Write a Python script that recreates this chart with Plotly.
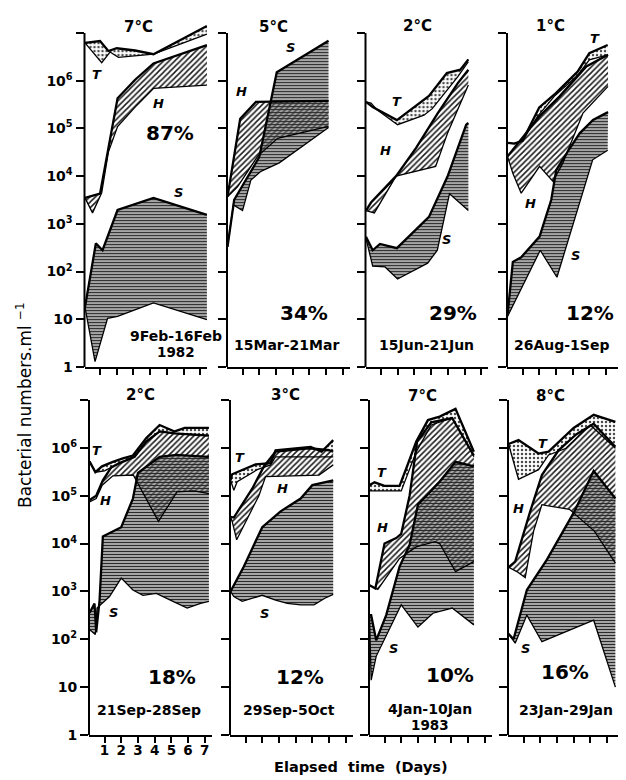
import plotly.graph_objects as go

# ------------------------------------------------------------------ data
TEMPS = ["7°C", "5°C", "2°C", "1°C", "2°C", "3°C", "7°C", "8°C"]
PERIODS = ["9Feb-16Feb", "15Mar-21Mar", "15Jun-21Jun", "26Aug-1Sep",
           "21Sep-28Sep", "29Sep-5Oct", "4Jan-10Jan", "23Jan-29Jan"]
YEARS = ["1982", "", "", "", "", "", "1983", ""]
PERCENTS = ["87%", "34%", "29%", "12%", "18%", "12%", "10%", "16%"]
DAY_TICKS = [1, 2, 3, 4, 5, 6, 7]
DAY_TICK_LABELS = ["1", "2", "3", "4", "5", "6", "7"]
COUNT_TICKS = [1, 10, 100, 1e3, 1e4, 1e5, 1e6, 1e7]
COUNT_TICK_LABELS = ["1", "10", "10<sup>2</sup>", "10<sup>3</sup>", "10<sup>4</sup>",
                     "10<sup>5</sup>", "10<sup>6</sup>", ""]

# Panel 1 : 7°C, 9Feb-16Feb 1982
P1_T_MAX_DAY = [0.1, 1.0, 1.5, 2.0, 3.1, 4.2, 7.4]
P1_T_MAX = [6.2e6, 6.8e6, 4.2e6, 4.8e6, 4.3e6, 3.6e6, 1.4e7]
P1_T_MIN_DAY = [0.1, 1.1, 1.6, 2.1, 4.2, 7.4]
P1_T_MIN = [6.2e6, 2.4e6, 4.0e6, 3.1e6, 3.6e6, 9.5e6]
P1_H_MAX_DAY = [0.1, 1.0, 2.05, 3.1, 4.2, 7.4]
P1_H_MAX = [3.5e3, 4.3e3, 4.3e5, 1.05e6, 2.3e6, 5.6e6]
P1_H_MIN_DAY = [0.1, 0.55, 1.1, 1.5, 2.05, 3.1, 4.2, 7.4]
P1_H_MIN = [3.5e3, 1.7e3, 4.5e3, 3.2e4, 1.1e5, 2.8e5, 6.9e5, 8.1e5]
P1_S_MAX_DAY = [0.1, 0.75, 1.15, 2.05, 4.2, 7.4]
P1_S_MAX = [18, 390, 280, 1950, 3500, 1550]
P1_S_MIN_DAY = [0.1, 0.7, 1.45, 2.05, 4.2, 7.4]
P1_S_MIN = [18, 1.3, 10.5, 11.5, 22, 9.8]

# Panel 2 : 5°C, 15Mar-21Mar
P2_H_MAX_DAY = [0.1, 0.86, 1.8, 6.15]
P2_H_MAX = [3.7e3, 1.6e5, 3.6e5, 3.8e5]
P2_H_MIN_DAY = [0.1, 0.7, 1.9, 3.1, 6.15]
P2_H_MIN = [3.7e3, 6.0e3, 2.6e4, 6.2e4, 1.1e5]
P2_S_MAX_DAY = [0.1, 0.5, 2.0, 3.05, 6.15]
P2_S_MAX = [330, 3.2e3, 2.5e4, 1.5e6, 6.9e6]
P2_S_MIN_DAY = [0.1, 0.45, 1.0, 1.5, 2.1, 3.2, 6.15]
P2_S_MIN = [330, 2.5e3, 1.9e3, 8.3e3, 1.26e4, 1.9e4, 1.05e5]

# Panel 3 : 2°C, 15Jun-21Jun
P3_T_MAX_DAY = [0.1, 0.5, 1.95, 3.87, 4.94, 5.75, 6.23]
P3_T_MAX = [3.6e5, 2.8e5, 1.5e5, 4.8e5, 1.45e6, 1.7e6, 2.8e6]
P3_T_MIN_DAY = [0.1, 0.4, 0.74, 1.99, 3.57, 4.07, 5.59, 6.23]
P3_T_MIN = [3.6e5, 3.4e5, 2.5e5, 1.2e5, 1.9e5, 2.6e5, 1.2e6, 2.5e6]
P3_H_MAX_DAY = [0.1, 0.4, 1.9, 3.1, 4.4, 5.6, 6.23]
P3_H_MAX = [1.9e3, 2.8e3, 1.0e4, 3.9e4, 2.1e5, 8.9e5, 1.7e6]
P3_H_MIN_DAY = [0.1, 0.6, 1.9, 4.27, 4.98, 6.23]
P3_H_MIN = [1.9e3, 1.7e3, 1.0e4, 1.6e4, 7.9e4, 8.1e5]
P3_S_MAX_DAY = [0.1, 0.5, 0.94, 1.95, 3.87, 4.98, 6.1, 6.23]
P3_S_MAX = [540, 280, 380, 310, 1.4e3, 9.8e3, 1.2e5, 1.3e5]
P3_S_MIN_DAY = [0.1, 0.5, 1.24, 1.99, 3.79, 4.37, 5.1, 6.23]
P3_S_MIN = [500, 130, 125, 70, 150, 280, 4.3e3, 1.9e3]

# Panel 4 : 1°C, 26Aug-1Sep
P4_T_MAX_DAY = [0.1, 0.5, 1.0, 2.0, 3.0, 4.3, 5.0, 6.1]
P4_T_MAX = [5.0e4, 4.8e4, 5.5e4, 2.75e5, 5.5e5, 1.55e6, 3.8e6, 5.6e6]
P4_T_MIN_DAY = [0.1, 0.5, 1.0, 1.9, 2.9, 4.3, 5.0, 6.1]
P4_T_MIN = [5.0e4, 4.8e4, 5.5e4, 1.8e5, 4.7e5, 1.3e6, 2.75e6, 3.5e6]
P4_H_MAX_DAY = [0.1, 0.72, 2.02, 3.22, 4.82, 6.12]
P4_H_MAX = [2.6e4, 4.9e4, 1.8e5, 4.7e5, 2.0e6, 3.5e6]
P4_H_MIN_DAY = [0.1, 0.42, 0.92, 2.02, 2.82, 3.42, 4.62, 6.12]
P4_H_MIN = [2.6e4, 1.15e4, 4.4e3, 1.6e4, 7.8e3, 1.9e4, 2.1e5, 7.6e5]
P4_S_MAX_DAY = [0.1, 0.42, 0.92, 2.02, 2.72, 3.02, 3.82, 4.42, 5.22, 6.12]
P4_S_MAX = [12, 160, 200, 540, 3.2e3, 1.35e4, 3.8e4, 7.9e4, 1.5e5, 2.2e5]
P4_S_MIN_DAY = [0.1, 2.06, 3.06, 5.2, 6.1]
P4_S_MIN = [11.5, 280, 76, 2.2e4, 3.5e4]

# Panel 5 : 2°C, 21Sep-28Sep
P5_T_MAX_DAY = [0.1, 0.45, 0.85, 1.5, 2.1, 2.7, 3.5, 4.3, 5.2, 5.8, 7.25]
P5_T_MAX = [5.2e5, 3.1e5, 4.1e5, 5.1e5, 6.0e5, 6.9e5, 1.6e6, 3.0e6, 2.2e6, 2.6e6, 2.6e6]
P5_T_MIN_DAY = [0.1, 0.45, 1.0, 1.4, 1.9, 2.8, 3.5, 4.3, 5.2, 6.1, 7.25]
P5_T_MIN = [5.2e5, 3.1e5, 3.3e5, 3.9e5, 4.8e5, 6.5e5, 1.35e6, 2.2e6, 2.0e6, 1.9e6, 1.8e6]
P5_H_MAX_DAY = [0.1, 0.5, 0.9, 1.4, 1.9, 2.8, 3.5, 4.3, 5.2, 6.1, 7.25]
P5_H_MAX = [8.1e4, 1.0e5, 2.1e5, 3.9e5, 4.8e5, 6.5e5, 1.35e6, 2.2e6, 2.0e6, 1.9e6, 1.8e6]
P5_H_MIN_DAY = [0.1, 0.5, 0.86, 1.5, 2.72, 4.23, 5.34, 6.35, 7.25]
P5_H_MIN = [7.4e4, 8.7e4, 1.66e5, 2.6e5, 2.7e5, 2.9e4, 1.2e5, 1.26e5, 1.1e5]
P5_S_MAX_DAY = [0.1, 0.4, 0.5, 0.7, 0.9, 1.5, 2.0, 2.7, 3.0, 4.3, 5.3, 7.25]
P5_S_MAX = [355, 560, 140, 630, 1.4e4, 1.8e4, 2.2e4, 8.7e4, 3.0e5, 6.5e5, 7.1e5, 6.5e5]
P5_S_MIN_DAY = [0.1, 0.45, 0.55, 1.3, 2.0, 2.7, 3.3, 4.1, 5.1, 5.95, 6.75, 7.25]
P5_S_MIN = [160, 126, 450, 780, 1.9e3, 1.07e3, 830, 910, 620, 450, 560, 620]

# Panel 6 : 3°C, 29Sep-5Oct
P6_T_MAX_DAY = [0.1, 0.2, 1.6, 2.5, 2.8, 4.9, 5.55, 6.25]
P6_T_MAX = [2.1e5, 2.8e5, 4.5e5, 4.8e5, 8.9e5, 1.05e6, 8.3e5, 1.45e6]
P6_T_MIN_DAY = [0.1, 0.3, 0.5, 1.7, 2.5, 2.8, 5.55, 6.25]
P6_T_MIN = [2.1e5, 1.3e5, 1.95e5, 3.5e5, 4.4e5, 6.5e5, 6.5e5, 6.5e5]
P6_H_MAX_DAY = [0.1, 0.3, 1.4, 2.1, 2.8, 4.8, 6.0, 6.25]
P6_H_MAX = [3.6e4, 3.5e4, 1.4e5, 4.1e5, 8.3e5, 9.8e5, 8.9e5, 8.3e5]
P6_H_MIN_DAY = [0.1, 0.2, 0.47, 1.1, 1.8, 2.2, 5.4, 6.25]
P6_H_MIN = [3.6e4, 2.9e4, 1.2e4, 3.4e4, 1.0e5, 2.5e5, 2.7e5, 4.4e5]
P6_S_MAX_DAY = [0.1, 0.9, 2.0, 3.1, 4.3, 5.0, 6.25]
P6_S_MAX = [1.0e3, 3.3e3, 2.2e4, 4.7e4, 8.7e4, 1.66e5, 2.1e5]
P6_S_MIN_DAY = [0.1, 0.3, 0.8, 1.5, 2.0, 2.8, 3.5, 4.3, 5.1, 5.75, 6.25]
P6_S_MIN = [1.0e3, 780, 620, 720, 830, 660, 560, 525, 525, 720, 870]

# Panel 7 : 7°C, 4Jan-10Jan 1983
P7_T_MAX_DAY = [0.1, 0.4, 1.0, 1.9, 2.3, 2.9, 3.6, 4.3, 5.25, 6.35]
P7_T_MAX = [1.66e5, 1.9e5, 1.6e5, 1.6e5, 3.7e5, 1.35e6, 3.8e6, 4.5e6, 6.5e6, 8.3e5]
P7_T_MIN_DAY = [0.1, 2.0, 2.9, 3.8, 5.05, 6.35]
P7_T_MIN = [1.26e5, 1.26e5, 8.3e5, 3.0e6, 4.2e6, 6.5e5]
P7_H_MAX_DAY = [0.1, 0.45, 1.0, 1.7, 2.0, 2.5, 2.95, 3.8, 5.05, 6.35]
P7_H_MAX = [1.35e3, 1.15e3, 1.0e4, 1.3e4, 1.6e4, 1.0e5, 1.35e6, 3.4e6, 4.2e6, 6.9e5]
P7_H_MIN_DAY = [0.1, 0.6, 1.9, 2.9, 4.0, 4.3, 5.25, 6.35]
P7_H_MIN = [1.35e3, 1.1e3, 4.9e3, 8.5e3, 1.1e4, 1.0e4, 2.6e3, 4.2e3]
P7_S_MAX_DAY = [0.1, 0.2, 0.5, 1.1, 1.9, 2.5, 3.0, 4.3, 5.25, 6.35]
P7_S_MAX = [320, 320, 95, 320, 3.3e3, 9.3e3, 6.5e4, 1.95e5, 5.1e5, 4.1e5]
P7_S_MIN_DAY = [0.1, 0.2, 0.5, 2.0, 3.0, 3.9, 5.05, 6.35]
P7_S_MIN = [320, 14, 44, 525, 180, 350, 450, 200]

# Panel 8 : 8°C, 23Jan-29Jan
P8_T_MAX_DAY = [0.1, 0.7, 1.9, 2.5, 4.0, 5.2, 6.5]
P8_T_MAX = [1.2e6, 1.45e6, 7.6e5, 8.3e5, 2.6e6, 4.9e6, 3.5e6]
P8_T_MIN_DAY = [0.1, 0.7, 1.9, 2.5, 3.55, 5.0, 6.5]
P8_T_MIN = [1.2e6, 2.2e5, 3.5e5, 7.1e5, 9.8e5, 3.0e6, 9.8e5]
P8_H_MAX_DAY = [0.1, 0.5, 1.4, 2.1, 3.1, 4.15, 5.2, 6.5]
P8_H_MAX = [3.2e3, 4.2e3, 4.7e4, 2.7e5, 8.9e5, 1.9e6, 3.2e6, 1.05e6]
P8_H_MIN_DAY = [0.1, 0.6, 1.1, 1.6, 2.1, 2.4, 3.75, 5.25, 6.5]
P8_H_MIN = [3.2e3, 2.6e3, 1.95e3, 1.8e4, 6.5e4, 6.2e4, 5.2e4, 1.8e4, 3.9e3]
P8_S_MAX_DAY = [0.1, 0.4, 1.2, 2.4, 4.05, 5.2, 6.5]
P8_S_MAX = [130, 100, 1.07e3, 4.6e3, 4.7e4, 3.3e5, 8.7e4]
P8_S_MIN_DAY = [0.1, 0.5, 1.2, 2.1, 5.2, 6.5]
P8_S_MIN = [130, 83, 320, 89, 250, 10]

PANEL_BANDS = [
    {"T": (P1_T_MAX_DAY, P1_T_MAX, P1_T_MIN_DAY, P1_T_MIN),
     "H": (P1_H_MAX_DAY, P1_H_MAX, P1_H_MIN_DAY, P1_H_MIN),
     "S": (P1_S_MAX_DAY, P1_S_MAX, P1_S_MIN_DAY, P1_S_MIN)},
    {"H": (P2_H_MAX_DAY, P2_H_MAX, P2_H_MIN_DAY, P2_H_MIN),
     "S": (P2_S_MAX_DAY, P2_S_MAX, P2_S_MIN_DAY, P2_S_MIN)},
    {"T": (P3_T_MAX_DAY, P3_T_MAX, P3_T_MIN_DAY, P3_T_MIN),
     "H": (P3_H_MAX_DAY, P3_H_MAX, P3_H_MIN_DAY, P3_H_MIN),
     "S": (P3_S_MAX_DAY, P3_S_MAX, P3_S_MIN_DAY, P3_S_MIN)},
    {"T": (P4_T_MAX_DAY, P4_T_MAX, P4_T_MIN_DAY, P4_T_MIN),
     "H": (P4_H_MAX_DAY, P4_H_MAX, P4_H_MIN_DAY, P4_H_MIN),
     "S": (P4_S_MAX_DAY, P4_S_MAX, P4_S_MIN_DAY, P4_S_MIN)},
    {"T": (P5_T_MAX_DAY, P5_T_MAX, P5_T_MIN_DAY, P5_T_MIN),
     "H": (P5_H_MAX_DAY, P5_H_MAX, P5_H_MIN_DAY, P5_H_MIN),
     "S": (P5_S_MAX_DAY, P5_S_MAX, P5_S_MIN_DAY, P5_S_MIN)},
    {"T": (P6_T_MAX_DAY, P6_T_MAX, P6_T_MIN_DAY, P6_T_MIN),
     "H": (P6_H_MAX_DAY, P6_H_MAX, P6_H_MIN_DAY, P6_H_MIN),
     "S": (P6_S_MAX_DAY, P6_S_MAX, P6_S_MIN_DAY, P6_S_MIN)},
    {"T": (P7_T_MAX_DAY, P7_T_MAX, P7_T_MIN_DAY, P7_T_MIN),
     "H": (P7_H_MAX_DAY, P7_H_MAX, P7_H_MIN_DAY, P7_H_MIN),
     "S": (P7_S_MAX_DAY, P7_S_MAX, P7_S_MIN_DAY, P7_S_MIN)},
    {"T": (P8_T_MAX_DAY, P8_T_MAX, P8_T_MIN_DAY, P8_T_MIN),
     "H": (P8_H_MAX_DAY, P8_H_MAX, P8_H_MIN_DAY, P8_H_MIN),
     "S": (P8_S_MAX_DAY, P8_S_MAX, P8_S_MIN_DAY, P8_S_MIN)},
]

# ------------------------------------------------------------------ layout constants
# the page body has an 8 px margin, so the figure is drawn 8 px in from the corner
PAGE_OFFSET = 8
W, H = 626 - PAGE_OFFSET, 780 - PAGE_OFFSET
PX_PER_DAY = 16.7
X_START = 0.07
X_END = 7.42
LEFT_PX = [84.5, 227, 365.5, 507, 89, 230, 369, 508]
ROW_PX = {0: (367.0, 21.1), 1: (735.0, 388.0)}   # (bottom = 1, top = 10^7.25) in screen px
Y_RANGE = [0, 7.25]

BAND_STYLE = {
    "T": dict(shape=".", fgcolor="#4a4a4a", bgcolor="white", size=4, solidity=0.3),
    "H": dict(shape="/", fgcolor="#1a1a1a", bgcolor="white", size=4, solidity=0.38),
    "S": dict(shape="-", fgcolor="#2a2a2a", bgcolor="rgba(105,105,105,0.6)", size=3, solidity=0.35),
}

# label screen-pixel positions
LABEL_PX = [
    dict(T=(97, 75), H=(158, 103), S=(178, 193), pct=(170, 133), date=(176, 336), year=(176, 352), title=(138, 27)),
    dict(H=(241, 92), S=(290, 48), pct=(304, 313), date=(286, 345), title=(273, 27)),
    dict(T=(397, 102), H=(386, 150), S=(446, 240), pct=(453, 313), date=(426, 345), title=(417, 26)),
    dict(T=(595, 38), H=(530, 203), S=(575, 255), pct=(590, 313), date=(561, 345), title=(550, 26)),
    dict(T=(97, 450), H=(105, 500), S=(113, 612), pct=(172, 677), date=(149, 710), title=(140, 395)),
    dict(T=(240, 458), H=(282, 488), S=(264, 613), pct=(300, 677), date=(289, 710), title=(285, 395)),
    dict(T=(382, 472), H=(383, 527), S=(393, 648), pct=(450, 675), date=(430, 709), year=(430, 725), title=(422, 396)),
    dict(T=(543, 443), H=(518, 508), S=(525, 648), pct=(565, 672), date=(566, 710), title=(550, 396)),
]

BOLD_FONT = "DejaVu Sans, Liberation Sans, Arial, sans-serif"


def fx(px):
    return (px - PAGE_OFFSET) / W


def fy(py):
    return 1 - (py - PAGE_OFFSET) / H


fig = go.Figure()


def ann(px, py, text, size, family=BOLD_FONT, angle=0):
    fig.add_annotation(x=fx(px), y=fy(py), xref="paper", yref="paper",
                       text=text, showarrow=False, textangle=angle,
                       xanchor="center", yanchor="middle",
                       font=dict(family=family, size=size, color="black"))


for i, bands in enumerate(PANEL_BANDS):
    k = i + 1
    suffix = "" if k == 1 else str(k)
    xa, ya = "x" + suffix, "y" + suffix
    row = 0 if i < 4 else 1

    for name in ("T", "H", "S"):
        if name not in bands:
            continue
        xmax, ymax, xmin, ymin = bands[name]
        st = BAND_STYLE[name]
        fig.add_trace(go.Scatter(
            x=list(xmax) + list(xmin)[::-1], y=list(ymax) + list(ymin)[::-1],
            xaxis=xa, yaxis=ya, mode="lines", fill="toself",
            fillcolor=st["bgcolor"],
            fillpattern=dict(shape=st["shape"], fgcolor=st["fgcolor"], bgcolor=st["bgcolor"],
                             size=st["size"], solidity=st["solidity"]),
            line=dict(width=0, color="rgba(0,0,0,0)"),
            hoverinfo="skip", showlegend=False))
    for name in ("T", "H", "S"):
        if name not in bands:
            continue
        xmax, ymax, xmin, ymin = bands[name]
        fig.add_trace(go.Scatter(x=xmin, y=ymin, xaxis=xa, yaxis=ya, mode="lines",
                                 line=dict(color="black", width=1.3),
                                 hoverinfo="skip", showlegend=False))
        fig.add_trace(go.Scatter(x=xmax, y=ymax, xaxis=xa, yaxis=ya, mode="lines",
                                 line=dict(color="black", width=2.3),
                                 hoverinfo="skip", showlegend=False))

    left = LEFT_PX[i]
    right = min(left + (X_END - X_START) * PX_PER_DAY, 626)
    xend = X_START + (right - left) / PX_PER_DAY
    bottom_px, top_px = ROW_PX[row]
    fig.update_layout(**{
        "xaxis" + suffix: dict(
            domain=[fx(left), min(fx(right), 1.0)], range=[X_START, xend], anchor=ya,
            showline=True, linecolor="black", linewidth=2, showgrid=False, zeroline=False,
            ticks="outside", ticklen=6, tickwidth=2, tickcolor="black",
            tickvals=DAY_TICKS, ticktext=["<b>%s</b>" % t for t in DAY_TICK_LABELS],
            showticklabels=(k == 5), ticklabelstandoff=-4,
            tickfont=dict(family=BOLD_FONT, size=13.5, color="black")),
        "yaxis" + suffix: dict(
            domain=[fy(bottom_px), fy(top_px)], type="log", range=Y_RANGE, anchor=xa,
            showline=False, showgrid=False, zeroline=False,
            ticks="outside", ticklen=8, tickwidth=2, tickcolor="black",
            tickvals=COUNT_TICKS, ticktext=["<b>%s</b>" % t for t in COUNT_TICK_LABELS],
            showticklabels=(k in (1, 5)),
            tickfont=dict(family=BOLD_FONT, size=14, color="black")),
    })
    # y-axis line that stops at the 10^7 tick
    fig.add_shape(type="line", xref=xa + " domain", yref=ya, x0=0, x1=0,
                  y0=COUNT_TICKS[0], y1=COUNT_TICKS[-1],
                  line=dict(color="black", width=2))

    lp = LABEL_PX[i]
    for name in ("T", "H", "S"):
        if name in lp:
            ann(*lp[name], "<b><i>%s</i></b>" % name, 13)
    ann(*lp["pct"], "<b>%s</b>" % PERCENTS[i], 20)
    ann(*lp["date"], "<b>%s</b>" % PERIODS[i], 14)
    if YEARS[i]:
        ann(*lp["year"], "<b>%s</b>" % YEARS[i], 13.5)
    ann(*lp["title"], "<b>%s</b>" % TEMPS[i], 15)

ann(24, 405, "Bacterial numbers.ml <sup>−1</sup>", 17,
    family="DejaVu Sans, Liberation Sans, Arial, sans-serif", angle=-90)
ann(361, 767, "<b>Elapsed  time  (Days)</b>", 14.5)

fig.update_layout(width=W, height=H, margin=dict(l=0, r=0, t=0, b=0),
                  template="none", paper_bgcolor="white", plot_bgcolor="rgba(0,0,0,0)",
                  showlegend=False)

fig.write_html("out.html")
